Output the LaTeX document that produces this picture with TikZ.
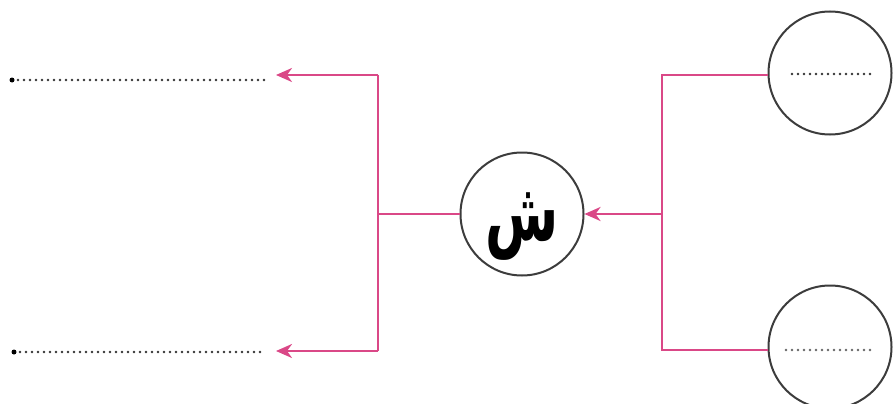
\documentclass[tikz,border=0pt]{standalone}
\usepackage{fontspec}
\usepackage{graphicx}
\newfontfamily\arabicfont[Script=Arabic]{DejaVu Sans}
\TeXXeTstate=1
\usetikzlibrary{arrows.meta}
\definecolor{pinkline}{RGB}{218,72,135}
\definecolor{ringgray}{RGB}{60,60,60}
\tikzset{
  ring/.style={circle, draw=ringgray, line width=2pt, minimum size=123pt, inner sep=0pt},
  link/.style={draw=pinkline, line width=2.6pt},
  linkarrow/.style={link, -{Stealth[length=16pt,width=14pt,inset=5pt]}},
  dotline/.style={line width=2.6pt, line cap=round, dash pattern=on 0pt off 6pt, black!80},
  bigdot/.style={circle, fill=black, inner sep=0pt, minimum size=5pt}
}
\begin{document}
\begin{tikzpicture}[x=1pt,y=-1pt]
\useasboundingbox (0,0) rectangle (894,404);
% circles
\node[ring] (center) at (522,214) {\raisebox{-26pt}[0pt][0pt]{\scalebox{0.78}[1.2]{\arabicfont\bfseries\fontsize{68}{70}\selectfont\beginR ش\endR}}};
\node[ring] (top) at (830,73) {};
\node[ring] (bot) at (830,347) {};
% junction coordinates
\coordinate (jr) at (662,214);
\coordinate (jrt) at (662,75);
\coordinate (jrb) at (662,350);
\coordinate (jl) at (378,214);
\coordinate (jlt) at (378,75);
\coordinate (jlb) at (378,351);
\coordinate (at) at (276,75);
\coordinate (ab) at (276,351);
% right branch
\draw[link] (top.west |- jrt) -- (jrt) -- (jrb) -- (bot.west |- jrb);
\draw[linkarrow] (jr) -- (center.east);
% left branch
\draw[link] (center.west) -- (jl);
\draw[linkarrow] (jlt) -- (at);
\draw[linkarrow] (jlb) -- (ab);
\draw[link] (jlt) -- (jlb);
% dotted answer lines
\node[bigdot] (d1) at (12,80) {};
\coordinate (e1) at (264,80);
\draw[dotline] ([xshift=6pt]d1.center) -- (e1);
\node[bigdot] (d2) at (14,352) {};
\coordinate (e2) at (264,352);
\draw[dotline] ([xshift=6pt]d2.center) -- (e2);
\coordinate (t1) at (792,74);
\coordinate (t2) at (870,74);
\draw[dotline] (t1) -- (t2);
\coordinate (b1) at (786,350);
\coordinate (b2) at (874,350);
\draw[dotline, black!60] (b1) -- (b2);
\end{tikzpicture}
\end{document}
